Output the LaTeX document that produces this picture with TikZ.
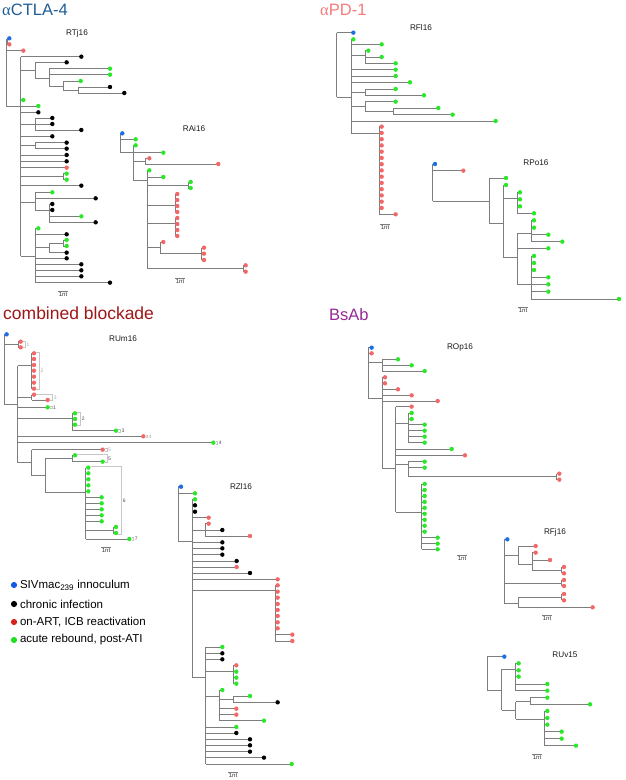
\documentclass[tikz,border=0pt]{standalone}
\usepackage{fontspec}
\setmainfont{Liberation Sans}
\newfontfamily\greekfont{Liberation Serif}
\usetikzlibrary{positioning}

\definecolor{tipblue}{RGB}{30,110,230}
\definecolor{tipred}{RGB}{242,104,104}
\definecolor{tipgreen}{RGB}{40,232,40}
\definecolor{legblue}{RGB}{20,90,230}
\definecolor{legred}{RGB}{214,34,24}
\definecolor{leggreen}{RGB}{30,226,30}
\definecolor{ctlablue}{RGB}{30,92,150}
\definecolor{pdred}{RGB}{244,122,122}
\definecolor{combred}{RGB}{160,22,22}
\definecolor{bsabpurple}{RGB}{150,40,150}
\definecolor{branchgray}{RGB}{125,125,125}

% tree pieces: vertical branch, horizontal branch, branch ending in a leaf, group bracket
\newcommand{\vbr}[3]{\draw[branch] (#1,#2) -- (#1,#3);}
\newcommand{\hbr}[3]{\draw[branch] (#2,#1) -- (#3,#1);}
\newcommand{\leaf}[4]{\draw[branch] (#1,#2) -- (#3,#2); \fill[#4] (#3,#2) circle (2.2pt);}
\newcommand{\grp}[7]{\draw[bracket] (#1,#2) -- (#5,#2) -- (#5,#4) -- (#3,#4);
  \node[grplabel, text=#7, right] (grp#5-#2) at (#5,{(#2+#4)/2}) {#6};}

\begin{document}
\begin{tikzpicture}[
    x=1pt, y=-1pt,
    branch/.style={draw=branchgray, line width=0.7pt},
    bracket/.style={draw=gray!45, line width=0.5pt},
    grplabel/.style={font=\fontsize{5}{6}\selectfont, inner sep=1pt},
    title/.style={font=\fontsize{16.5}{18}\selectfont, anchor=west, inner sep=0pt},
    treelabel/.style={font=\fontsize{8.2}{9}\selectfont, text=black!90},
    sbar/.style={font=\fontsize{6}{7}\selectfont, inner sep=0.6pt, text=black!80},
    ldot/.style={circle, inner sep=0pt, minimum size=6.2pt},
    ltext/.style={font=\fontsize{11.5}{13}\selectfont, inner sep=0pt, anchor=west}
]
\useasboundingbox (0,0) rectangle (625,780);

% Group titles
\node[title, text=ctlablue] (tCTLA) at (2,10) {{\greekfont α}CTLA-4};
\node[title, text=pdred] (tPD) at (320,10) {{\greekfont α}PD-1};
\node[title, text=combred, font=\fontsize{17.5}{19}\selectfont] (tComb) at (3,313) {combined blockade};
\node[title, text=bsabpurple] (tBsAb) at (329,315) {BsAb};

% Tree labels
\node[treelabel] (lbRTj) at (77,33) {RTj16};
\node[treelabel] (lbRAi) at (194,129) {RAi16};
\node[treelabel] (lbRFl) at (421,28) {RFl16};
\node[treelabel] (lbRPo) at (536,163) {RPo16};
\node[treelabel] (lbRUm) at (123,339) {RUm16};
\node[treelabel] (lbRZl) at (241,487) {RZl16};
\node[treelabel] (lbROp) at (460,347) {ROp16};
\node[treelabel] (lbRFj) at (555,532) {RFj16};
\node[treelabel] (lbRUv) at (565,655) {RUv15};

% RTj16
\begin{scope}[shift={(0,0)}, x=0.3333pt, y=-0.3333pt]
\vbr{18}{118}{320} \vbr{22}{115}{133} \hbr{124}{18}{22}
\leaf{22}{115}{28}{tipblue} \leaf{22}{133}{28}{tipred} \leaf{18}{152}{70}{tipred}
\hbr{320}{18}{62} \vbr{62}{170}{768}
\leaf{62}{170}{244}{black}
\hbr{212}{62}{105} \vbr{105}{187}{236} \leaf{105}{187}{200}{black}
\hbr{236}{105}{148} \vbr{148}{206}{258} \leaf{148}{206}{330}{tipgreen} \leaf{148}{224}{330}{tipgreen}
\hbr{258}{148}{190} \vbr{190}{243}{270} \leaf{190}{243}{242}{tipgreen}
\hbr{270}{190}{235} \vbr{235}{261}{279} \leaf{235}{261}{330}{black} \leaf{235}{279}{373}{black}
\leaf{62}{300}{70}{tipgreen} \leaf{62}{318}{115}{tipgreen} \leaf{62}{337}{115}{black}
\hbr{372}{62}{105} \vbr{105}{354}{390}
\leaf{105}{354}{157}{black} \leaf{105}{372}{157}{black} \leaf{105}{390}{244}{black}
\leaf{62}{409}{157}{black}
\hbr{437}{62}{105} \vbr{105}{428}{446} \leaf{105}{428}{200}{black} \leaf{105}{446}{200}{black}
\leaf{62}{465}{200}{black} \leaf{62}{484}{200}{black} \leaf{62}{503}{200}{tipred}
\hbr{530}{62}{190} \vbr{190}{521}{539} \leaf{190}{521}{200}{tipgreen} \leaf{190}{539}{200}{tipgreen}
\leaf{62}{557}{244}{black}
\hbr{606}{62}{105} \vbr{105}{577}{630} \leaf{105}{577}{157}{tipgreen} \leaf{105}{595}{287}{black}
\hbr{630}{105}{148} \vbr{148}{612}{667}
\leaf{148}{612}{157}{black} \leaf{148}{630}{157}{black} \leaf{148}{649}{244}{tipgreen} \leaf{148}{667}{287}{black}
\hbr{768}{62}{105} \vbr{105}{685}{848}
\leaf{105}{685}{115}{tipgreen} \leaf{105}{703}{200}{black}
\hbr{743}{105}{148} \vbr{148}{729}{758} \hbr{729}{148}{190} \vbr{190}{720}{738}
\leaf{190}{720}{200}{tipgreen} \leaf{190}{738}{200}{tipgreen} \leaf{148}{758}{200}{black}
\leaf{105}{775}{200}{black}
\foreach \y in {793,811,829} {\leaf{105}{\y}{244}{black}}
\leaf{105}{848}{330}{black}
\end{scope}

% RAi16
\begin{scope}[shift={(100,110)}, x=0.3333pt, y=-0.3333pt]
\vbr{60}{70}{128} \leaf{60}{70}{67}{tipblue} \leaf{60}{88}{107}{tipgreen}
\hbr{128}{60}{100} \vbr{100}{106}{212}
\leaf{100}{106}{107}{tipgreen} \leaf{100}{128}{190}{tipgreen}
\hbr{153}{100}{135} \vbr{135}{145}{162} \leaf{135}{145}{148}{tipred} \leaf{135}{162}{355}{tipred}
\hbr{212}{100}{142} \vbr{142}{181}{475}
\leaf{142}{181}{148}{tipgreen} \leaf{142}{201}{190}{tipgreen}
\hbr{225}{142}{265} \vbr{265}{216}{234} \leaf{265}{216}{272}{tipgreen} \leaf{265}{234}{272}{tipgreen}
\hbr{287}{142}{225} \vbr{225}{252}{306}
\foreach \y in {252,270,288,306} {\leaf{225}{\y}{232}{tipred}}
\hbr{340}{142}{225} \vbr{225}{324}{378}
\foreach \y in {324,342,360,378} {\leaf{225}{\y}{232}{tipred}}
\hbr{413}{142}{180} \vbr{180}{396}{431} \leaf{180}{396}{190}{tipred}
\hbr{431}{180}{305} \vbr{305}{413}{450}
\foreach \y in {413,431,450} {\leaf{305}{\y}{312}{tipred}}
\hbr{475}{142}{430} \vbr{430}{466}{485} \leaf{430}{466}{437}{tipred} \leaf{430}{485}{437}{tipred}
\end{scope}

% RFl16
\begin{scope}[shift={(300,0)}, x=0.3333pt, y=-0.3333pt]
\vbr{110}{98}{292} \leaf{110}{98}{160}{tipblue}
\hbr{292}{110}{153} \vbr{153}{118}{400}
\leaf{153}{118}{160}{tipgreen} \leaf{153}{133}{245}{tipgreen}
\hbr{166}{153}{195} \vbr{195}{152}{190}
\leaf{195}{152}{205}{tipgreen} \leaf{195}{171}{245}{tipgreen} \leaf{195}{190}{287}{tipgreen}
\leaf{153}{209}{287}{tipgreen} \leaf{153}{228}{287}{tipgreen} \leaf{153}{247}{330}{tipgreen}
\hbr{276}{153}{195} \vbr{195}{267}{286} \leaf{195}{267}{287}{tipgreen} \leaf{195}{286}{372}{tipgreen}
\hbr{320}{153}{195} \vbr{195}{305}{334} \leaf{195}{305}{287}{tipgreen}
\hbr{334}{195}{280} \vbr{280}{324}{344} \leaf{280}{324}{415}{tipgreen} \leaf{280}{344}{458}{tipgreen}
\leaf{153}{363}{587}{tipgreen}
\hbr{400}{153}{238} \vbr{238}{380}{643}
\foreach \i in {0,...,13} {\leaf{238}{380+18.75*\i}{245}{tipred}}
\leaf{238}{643}{287}{tipred}
\end{scope}

% RPo16
\begin{scope}[shift={(420,140)}, x=0.3333pt, y=-0.3333pt]
\vbr{38}{72}{183} \leaf{38}{72}{45}{tipblue} \leaf{38}{92}{130}{tipred}
\hbr{183}{38}{207} \vbr{207}{114}{249} \leaf{207}{114}{258}{tipgreen}
\hbr{249}{207}{249} \vbr{249}{135}{352} \leaf{249}{135}{258}{tipgreen}
\hbr{176}{249}{292} \vbr{292}{157}{220}
\foreach \y in {157,178,199} {\leaf{292}{\y}{300}{tipgreen}}
\leaf{292}{220}{342}{tipgreen}
\hbr{352}{249}{292} \vbr{292}{280}{433}
\hbr{280}{292}{333} \vbr{333}{241}{305}
\leaf{333}{241}{342}{tipgreen} \leaf{333}{263}{342}{tipgreen} \leaf{333}{284}{385}{tipgreen} \leaf{333}{305}{427}{tipgreen}
\leaf{292}{325}{385}{tipgreen}
\hbr{433}{292}{333} \vbr{333}{348}{477}
\foreach \y in {348,369,390} {\leaf{333}{\y}{342}{tipgreen}}
\foreach \y in {412,433,455} {\leaf{333}{\y}{385}{tipgreen}}
\leaf{333}{477}{597}{tipgreen}
\end{scope}

% RUm16
\begin{scope}[shift={(0,300)}, x=0.3333pt, y=-0.3333pt]
\vbr{12}{103}{313} \leaf{12}{103}{20}{tipblue}
\hbr{134}{12}{55} \vbr{55}{125}{142} \leaf{55}{125}{62}{tipred} \leaf{55}{142}{62}{tipred}
\hbr{313}{12}{53} \vbr{53}{197}{488}
\hbr{197}{53}{95} \vbr{95}{160}{266}
\foreach \y in {160,177,195,212,230,248,266} {\leaf{95}{\y}{102}{tipred}}
\hbr{292}{53}{95} \vbr{95}{284}{300} \leaf{95}{284}{102}{tipred} \leaf{95}{300}{143}{tipred}
\leaf{53}{322}{143}{tipgreen}
\hbr{355}{53}{217} \vbr{217}{340}{392}
\foreach \y in {340,357,374} {\leaf{217}{\y}{225}{tipgreen}}
\leaf{217}{392}{348}{tipgreen}
\leaf{53}{409}{430}{tipred} \leaf{53}{428}{640}{tipgreen}
\hbr{488}{53}{95} \vbr{95}{449}{527} \leaf{95}{449}{308}{tipred}
\hbr{527}{95}{135} \vbr{135}{475}{578}
\hbr{475}{135}{217} \vbr{217}{466}{485} \leaf{217}{466}{225}{tipgreen} \leaf{217}{485}{308}{tipgreen}
\hbr{578}{135}{257} \vbr{257}{503}{717}
\foreach \y in {503,520,538,556,574} {\leaf{257}{\y}{265}{tipgreen}}
\foreach \y in {592,610,628,646,664} {\leaf{257}{\y}{305}{tipgreen}}
\hbr{690}{257}{340} \vbr{340}{681}{699} \leaf{340}{681}{348}{tipgreen} \leaf{340}{699}{348}{tipgreen}
\leaf{257}{717}{388}{tipgreen}
% groups
\grp{70}{125}{70}{142}{76}{1}{gray!70}
\grp{108}{158}{108}{268}{118}{2}{gray!70}
\grp{108}{282}{150}{302}{158}{3}{gray!70}
\grp{150}{318}{150}{326}{156}{1}{black!70}
\grp{232}{338}{232}{376}{242}{2}{black!70}
\grp{355}{388}{355}{396}{361}{3}{black!70}
\grp{437}{405}{437}{413}{443}{4}{gray!70}
\grp{647}{424}{647}{432}{653}{4}{black!70}
\grp{315}{445}{315}{453}{321}{5}{gray!70}
\grp{232}{464}{315}{487}{321}{5}{black!70}
\grp{272}{499}{355}{703}{365}{6}{black!70}
\grp{395}{713}{395}{721}{401}{7}{black!70}
\end{scope}

% RZl16
\begin{scope}[shift={(160,480)}, x=0.3333pt, y=-0.3333pt]
\vbr{55}{20}{183} \leaf{55}{20}{63}{tipblue} \leaf{55}{40}{105}{tipgreen}
\hbr{183}{55}{97} \vbr{97}{58}{593}
\leaf{97}{58}{105}{tipgreen} \leaf{97}{76}{105}{black} \leaf{97}{95}{105}{black} \leaf{97}{113}{146}{tipred}
\hbr{150}{97}{135} \vbr{135}{131}{168}
\leaf{135}{131}{146}{tipred} \leaf{135}{150}{187}{black} \leaf{135}{168}{270}{tipred}
\foreach \y in {187,205,224} {\leaf{97}{\y}{187}{black}}
\leaf{97}{243}{230}{black} \leaf{97}{261}{230}{tipred} \leaf{97}{279}{270}{black} \leaf{97}{298}{353}{tipred}
\hbr{331}{97}{345} \vbr{345}{316}{483}
\foreach \y in {316,335,353,372,390,408,427,445} {\leaf{345}{\y}{353}{tipred}}
\leaf{345}{464}{397}{tipred} \leaf{345}{483}{397}{tipred}
\hbr{593}{97}{137} \vbr{137}{501}{852}
\leaf{137}{501}{187}{tipgreen} \leaf{137}{520}{187}{black} \leaf{137}{538}{187}{black}
\hbr{573}{137}{220} \vbr{220}{556}{611} \leaf{220}{556}{229}{tipred}
\foreach \y in {575,593,611} {\leaf{220}{\y}{229}{tipgreen}}
\hbr{648}{137}{178} \vbr{178}{630}{722} \leaf{178}{630}{187}{tipgreen}
\hbr{658}{178}{220} \vbr{220}{648}{667} \leaf{220}{648}{270}{tipgreen} \leaf{220}{667}{353}{black}
\leaf{178}{686}{229}{tipred} \leaf{178}{704}{229}{tipred} \leaf{178}{722}{312}{tipgreen}
\leaf{137}{741}{229}{tipgreen} \leaf{137}{759}{229}{black}
\foreach \y in {778,796,815} {\leaf{137}{\y}{270}{black}}
\leaf{137}{833}{312}{black} \leaf{137}{852}{395}{tipgreen}
\end{scope}

% ROp16
\begin{scope}[shift={(320,300)}, x=0.3333pt, y=-0.3333pt]
\vbr{145}{143}{296} \leaf{145}{143}{155}{tipblue} \leaf{145}{160}{155}{tipred}
\hbr{188}{145}{187} \vbr{187}{178}{213}
\leaf{187}{178}{234}{tipgreen} \leaf{187}{196}{275}{tipgreen} \leaf{187}{213}{314}{tipgreen}
\hbr{296}{145}{187} \vbr{187}{232}{505}
\leaf{187}{232}{195}{tipred} \leaf{187}{250}{195}{tipred} \leaf{187}{268}{234}{tipred}
\leaf{187}{286}{275}{tipred} \leaf{187}{303}{353}{tipred}
\hbr{505}{187}{227} \vbr{227}{320}{636}
\leaf{227}{320}{275}{tipred}
\hbr{370}{227}{265} \vbr{265}{339}{428} \leaf{265}{339}{275}{tipgreen} \leaf{265}{357}{275}{tipgreen}
\foreach \y in {374,392,410,428} {\leaf{265}{\y}{314}{tipgreen}}
\leaf{227}{447}{395}{tipgreen} \leaf{227}{466}{435}{tipred}
\hbr{494}{227}{265} \vbr{265}{485}{530} \leaf{265}{485}{314}{tipgreen} \leaf{265}{503}{314}{tipgreen}
\hbr{530}{265}{710} \vbr{710}{521}{539} \leaf{710}{521}{718}{tipred} \leaf{710}{539}{718}{tipred}
\hbr{636}{227}{305} \vbr{305}{552}{748}
\foreach \i in {0,...,8} {\leaf{305}{552+17.9*\i}{314}{tipgreen}}
\foreach \y in {713,731,748} {\leaf{305}{\y}{353}{tipgreen}}
\end{scope}

% RFj16 and RUv15
\begin{scope}[shift={(470,500)}, x=0.3333pt, y=-0.3333pt]
\vbr{103}{118}{310} \leaf{103}{118}{112}{tipblue}
\hbr{165}{103}{145} \vbr{145}{138}{193} \leaf{145}{138}{197}{tipred}
\hbr{193}{145}{187} \vbr{187}{158}{210} \leaf{187}{158}{197}{tipred} \leaf{187}{180}{240}{tipred}
\hbr{210}{187}{275} \vbr{275}{201}{220} \leaf{275}{201}{282}{tipred} \leaf{275}{220}{282}{tipred}
\hbr{250}{103}{275} \vbr{275}{240}{258} \leaf{275}{240}{282}{tipred} \leaf{275}{258}{282}{tipred}
\hbr{310}{103}{145} \vbr{145}{292}{322}
\hbr{292}{145}{275} \vbr{275}{282}{301} \leaf{275}{282}{282}{tipred} \leaf{275}{301}{282}{tipred}
\leaf{145}{322}{368}{tipred}
% RUv15
\vbr{52}{470}{572} \leaf{52}{470}{103}{tipblue}
\hbr{572}{52}{95} \vbr{95}{508}{630}
\hbr{508}{95}{137} \vbr{137}{490}{572}
\foreach \y in {490,511,530} {\leaf{137}{\y}{146}{tipgreen}}
\leaf{137}{552}{232}{tipgreen} \leaf{137}{572}{232}{tipgreen}
\hbr{630}{95}{137} \vbr{137}{605}{657}
\hbr{605}{137}{180} \vbr{180}{593}{613} \leaf{180}{593}{232}{tipgreen} \leaf{180}{613}{360}{tipgreen}
\hbr{657}{137}{222} \vbr{222}{633}{737}
\foreach \y in {633,654,674} {\leaf{222}{\y}{232}{tipgreen}}
\leaf{222}{695}{275}{tipgreen} \leaf{222}{716}{275}{tipgreen} \leaf{222}{737}{318}{tipgreen}
\end{scope}

% Scale bars
\foreach \nm/\px/\py in {RTj/63/294, RAi/180/281, RFl/385/227, RPo/523/310, RUm/106/550,
                          RZl/233/775, ROp/462/558, RFj/547/618, RUv/537/757} {
  \node[sbar] (sb\nm) at (\px,\py) {1nt};
  \draw[branch, line width=0.5pt] (sb\nm.north west) -- (sb\nm.north east);
}

% Legend
\node[ldot, fill=legblue] (lgBlue) at (14,585) {};
\node[ldot, fill=black] (lgBlack) at (14,604) {};
\node[ldot, fill=legred] (lgRed) at (14,622) {};
\node[ldot, fill=leggreen] (lgGreen) at (14,640) {};
\node[ltext, right=2.5pt of lgBlue] (lgBlueTxt) {SIVmac\textsubscript{239} innoculum};
\node[ltext, right=2.5pt of lgBlack] (lgBlackTxt) {chronic infection};
\node[ltext, right=2.5pt of lgRed] (lgRedTxt) {on-ART, ICB reactivation};
\node[ltext, right=2.5pt of lgGreen] (lgGreenTxt) {acute rebound, post-ATI};

\end{tikzpicture}
\end{document}
